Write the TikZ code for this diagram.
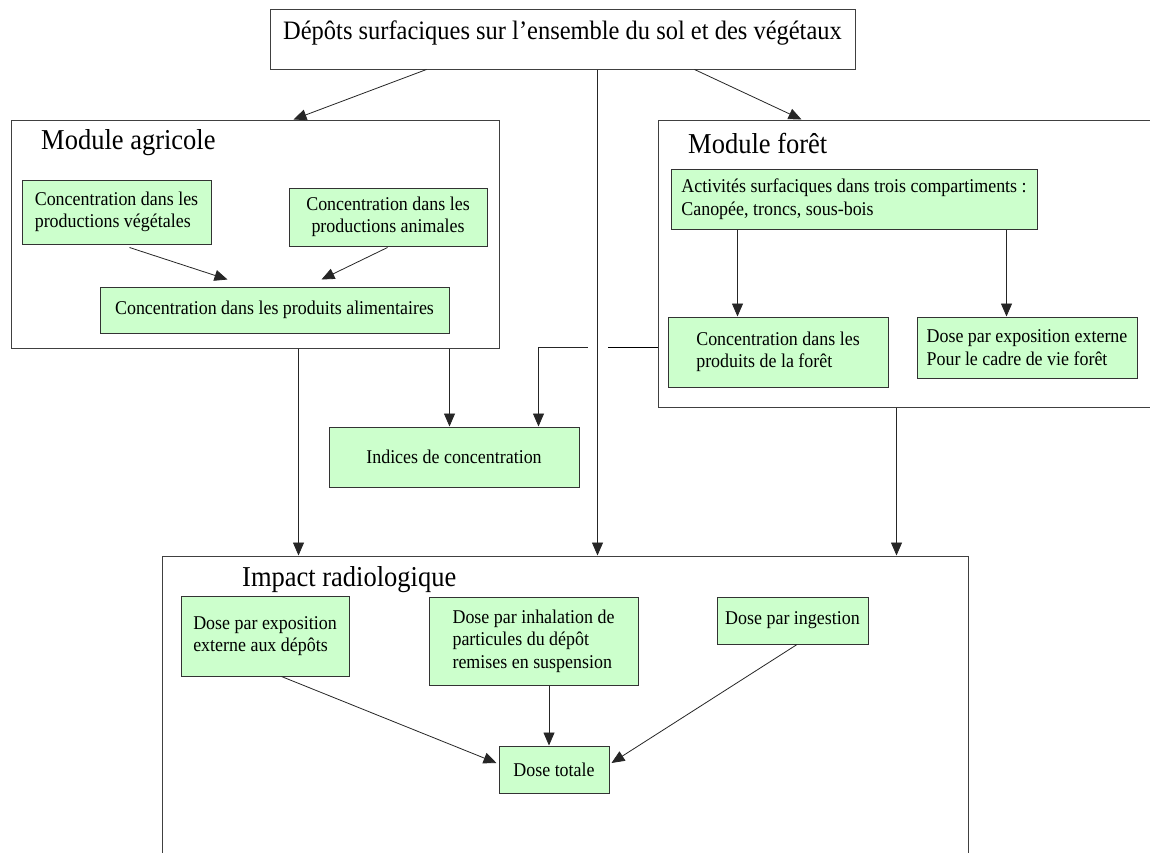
\documentclass[tikz,border=0pt]{standalone}
\usepackage{fontspec}
\setmainfont{Liberation Serif}[FakeStretch=0.92]
\usepackage{tikz}
\usetikzlibrary{calc,arrows.meta}
\definecolor{vert}{RGB}{204,255,204}

\begin{document}
\begin{tikzpicture}[x=1pt,y=-1pt]
% Box styles
\tikzset{
    modbox/.style={draw=black!75,line width=1pt,inner sep=0pt},
    gbox/.style={draw=black!80,line width=1pt,fill=vert,inner sep=0pt,
        align=left,font=\fontsize{19.5}{22.5}\selectfont},
    titre/.style={anchor=west,inner sep=0pt,font=\fontsize{28.8}{32}\selectfont},
    fl/.style={-{Triangle[length=13pt,width=11pt]},line width=0.8pt,draw=black!85}
}
\useasboundingbox (0,0) rectangle (1150,852);
\fill[white] (0,0) rectangle (1150,852);
\clip (0,0) rectangle (1150,852);
% Modules

\node[modbox,minimum width=585,minimum height=60,text height=18pt,text depth=18pt,
    font=\fontsize{26.6}{30}\selectfont] (top) at (562.5,39)
    {Dépôts surfaciques sur l’ensemble du sol et des végétaux};
\node[modbox,minimum width=488,minimum height=228] (agri) at (255,234){};
\node[modbox,minimum width=522,minimum height=287] (foret) at (919,263.5){};
\node[modbox,minimum width=806,minimum height=344] (impact) at (565,728){};
\node[titre] (agrit) at (41,143){Module agricole};
\node[titre] (forett) at (688,143){Module forêt};
\node[titre] (impactt) at (242,580){Impact radiologique};
% Boxes
\node[gbox,minimum width=189,minimum height=64] (veg) at (116.5,212)
    {Concentration dans les\\productions végétales};
\node[gbox,align=center,minimum width=198,minimum height=58] (anim) at (388,217)
    {Concentration dans les\\productions animales};
\node[gbox,minimum width=349,minimum height=46] (alim) at (274.5,310)
    {Concentration dans les produits alimentaires};
\node[gbox,minimum width=366,minimum height=60] (activ) at (854,199)
    {Activités surfaciques dans trois compartiments :\\Canopée, troncs, sous-bois};
\node[gbox,minimum width=220,minimum height=70] (concf) at (778,352)
    {Concentration dans les\\produits de la forêt};
\node[gbox,minimum width=220,minimum height=61] (dosef) at (1027,347.5)
    {Dose par exposition externe\\Pour le cadre de vie forêt};
\node[gbox,minimum width=250,minimum height=60] (indices) at (454,457)
    {Indices de concentration};
\node[gbox,minimum width=168,minimum height=80] (dext) at (265,636)
    {Dose par exposition\\externe aux dépôts};
\node[gbox,minimum width=209,minimum height=88] (dinh) at (533.5,641)
    {Dose par inhalation de\\particules du dépôt\\remises en suspension};
\node[gbox,minimum width=151,minimum height=47] (ding) at (792.5,620.5)
    {Dose par ingestion};
\node[gbox,minimum width=110,minimum height=47] (dtot) at (554,769.5)
    {Dose totale};
% Links
\coordinate (axe) at ($(top.south west)+(328,0)$);
\coordinate (ag) at ($(agri.south west)+(288,0)$);
\coordinate (fo) at ($(foret.south west)+(239,0)$);
\coordinate (c1) at ($(activ.south west)+(67,0)$);
\coordinate (c2) at ($(activ.south west)+(336,0)$);
\coordinate (j1) at ($(axe |- concf)+(10,-5)$);
\coordinate (j2) at ($(axe |- concf)+(-10,-5)$);
\coordinate (i2) at ($(indices.north east)+(-41,0)$);
\coordinate (d1) at ($(dinh.south)+(15.5,0)$);
 \draw[fl] ($(top.south west)+(157,0)$) -- ($(agri.north west)+(283,0)$);
 \draw[fl] ($(top.south west)+(425,0)$) -- ($(foret.north west)+(144,0)$);
 \draw[fl] (axe) -- (axe |- impact.north);
\draw[fl] ($(veg.south west)+(108,3)$) -- ($(alim.north west)+(128,-7)$);
\draw[fl] ($(anim.south west)+(99,1)$) -- ($(alim.north west)+(222,-7)$);
\draw[fl] (ag) -- (ag |- impact.north);
\draw[fl] (alim.east |- agri.south) -- (alim.east |- indices.north);
\draw[fl] (c1) -- (c1 |- concf.north);
\draw[fl] (c2) -- (c2 |- dosef.north);
\draw[fl] (fo) -- (fo |- impact.north);
\draw[line width=0.8pt] (foret.west |- j1) -- (j1);
\draw[fl] (j2) -| (i2);
\draw[fl] ($(dext.south west)+(101,0)$) -- ($(dtot.west)+(-2,-6.5)$);
\draw[fl] (d1) -- (d1 |- dtot.north);
\draw[fl] ($(ding.south)+(4.5,0)$) -- ($(dtot.east)+(2,-6.5)$);
\end{tikzpicture}
\end{document}
